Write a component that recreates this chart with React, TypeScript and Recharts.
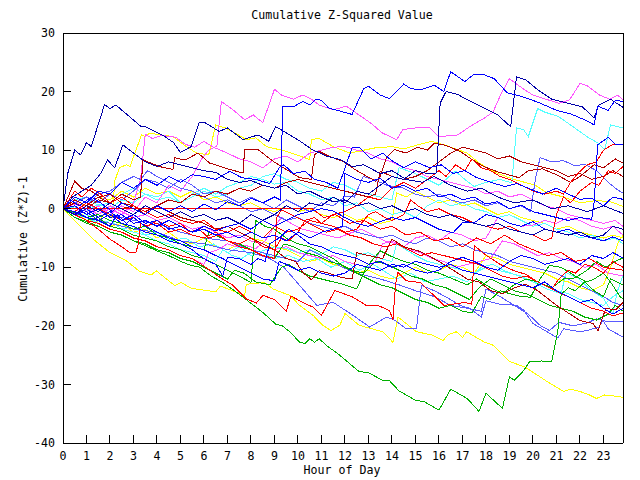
import { LineChart, Line, XAxis, YAxis } from 'recharts';

const HOURS = [0, 1, 2, 3, 4, 5, 6, 7, 8, 9, 10, 11, 12, 13, 14, 15, 16, 17, 18, 19, 20, 21, 22, 23];
const Y_TICKS = [-40, -30, -20, -10, 0, 10, 20, 30];
const X_MAX = 23.83;

const BLUE = '#0000ff';
const NAVY = '#0000a8';
const RED = '#ff0000';
const DARKRED = '#b00000';
const GREEN = '#00b000';
const MAGENTA = '#ff55ff';
const CYAN = '#55ffff';
const YELLOW = '#ffff00';
const SLATE = '#5a5aff';

type Pt = [number, number];

// each walk: [hour, cumulative value]
const navyA: Pt[] = [[0, 0], [0.2, 6], [0.5, 10], [0.75, 9.2], [1.0, 11.3], [1.2, 10.6], [1.77, 17.8], [2.0, 17.1], [2.25, 17.7], [3.3, 14.1], [3.5, 14], [3.9, 13.2], [4.3, 12.4], [4.7, 11.3], [5.0, 9.6], [5.45, 10.6], [5.8, 14.8], [6.0, 14.8], [6.65, 13.2], [7.0, 13.8], [7.65, 11.8], [8.3, 12.6], [8.75, 11.5], [9.05, 14], [9.4, 13.2], [10.1, 11.5], [10.6, 10.1], [11.2, 9], [11.8, 8.4], [12.3, 7.2], [12.8, 7.5], [13.5, 6], [14, 6.5], [14.6, 5], [15.3, 4.5], [15.8, 5.5], [16.5, 4], [17.2, 3], [17.8, 3.5], [18.5, 2], [19.2, 1], [20, 1.5], [20.8, 0], [21.5, 0.5], [22.3, -0.5], [23, 0.5], [23.83, -0.8]];
const blueB: Pt[] = [[0, 0], [0.3, 1.5], [0.7, 0.5], [1.2, 2], [1.6, 1], [2.1, -0.5], [2.5, 1], [3, 0], [3.5, -1], [4, 0.5], [4.5, -0.5], [5, 0.5], [5.5, -0.5], [6, 0.8], [6.5, -0.2], [7, 1.2], [7.5, 0.5], [8, 1.8], [8.5, 1], [9, 2], [9.25, 1.5], [9.35, 17.4], [9.8, 17.4], [10.2, 18.3], [10.5, 17.7], [10.75, 18.7], [11, 18.5], [11.3, 17.2], [12.3, 16.1], [12.8, 20.5], [13, 20.9], [13.5, 19.4], [13.9, 18.8], [14.5, 21.3], [14.8, 20.5], [15.2, 20.3], [15.8, 21.1], [16.2, 20], [16.5, 23.4], [17.1, 21.7], [17.5, 23], [17.9, 22.9], [18.35, 22.2], [18.9, 19.8], [19.5, 19.2], [20.2, 18.2], [21, 16.8], [21.6, 16.2], [22.3, 15], [22.6, 14.3], [22.75, 17.5], [23.2, 16.8], [23.5, 18.5], [23.83, 18.3]];
const navyC: Pt[] = [[0, 0], [0.5, -1], [1, 0.5], [1.5, -0.5], [2, 1], [2.5, 0], [3, -1], [3.5, 0.5], [4, -0.5], [4.5, -1.5], [5, -0.5], [5.5, -1.5], [6, -1], [6.5, -2], [7, -1.5], [7.5, -2.5], [8, -1], [8.5, -2], [9, -1], [9.5, 0.5], [10, -0.5], [10.5, 1], [11, 0.5], [11.5, 2], [12, 1], [12.5, 3], [13, 2.5], [13.5, 4], [14, 5.5], [14.5, 5], [15, 6.5], [15.5, 6], [15.9, 6.1], [16.05, 18], [16.3, 20], [16.8, 19.5], [17.3, 18.4], [17.9, 17.2], [18.5, 16], [19.05, 14], [19.3, 22.5], [19.7, 22], [20.2, 20.3], [20.8, 18.7], [21.5, 18], [22.1, 17.4], [22.6, 15.5], [22.8, 17.7], [23.3, 18.7], [23.83, 17.3]];
const magentaTop: Pt[] = [[0, 0], [0.5, 1.5], [1, -0.5], [1.5, 0.5], [2, -1], [2.5, 0.5], [3, -0.5], [3.5, 2], [4, 1], [4.5, 4], [5, 3], [5.5, 5.5], [5.9, 8.5], [6.2, 10], [6.55, 10.7], [6.74, 18.3], [7.2, 17], [7.73, 15.2], [8.1, 16], [8.5, 14.7], [9, 20.4], [9.3, 19.4], [9.8, 18.7], [10.2, 19.4], [10.57, 18.7], [10.9, 17.7], [11.5, 16.9], [12.06, 17.5], [12.6, 16], [13.1, 14.6], [13.6, 12.9], [14.2, 11.8], [14.46, 13.5], [15, 13.8], [15.6, 13.8], [16, 12.3], [16.8, 12.6], [17.3, 14], [17.9, 15.4], [18.3, 16.5], [18.65, 19.7], [19, 22.2], [19.57, 20.5], [20, 19.4], [21.1, 18], [21.56, 18.6], [22, 21.4], [22.3, 21], [22.84, 19.4], [23.26, 18.7], [23.6, 19.4], [23.83, 18.6]];
const cyanTop: Pt[] = [[0, 0], [0.5, 1.5], [1, 2], [1.5, 0.5], [2, 1], [2.5, 2.5], [3, 3.5], [3.5, 2.5], [4, 2], [4.5, 3], [5, 1], [5.5, 2], [6, 3], [6.5, 2], [7, 2.5], [7.5, 3.5], [8, 4], [8.5, 5.5], [9, 6], [9.5, 5], [10, 4.5], [10.5, 3.5], [11, 3], [11.5, 4.5], [12, 4], [12.5, 3], [13, 2.5], [13.5, 2], [14, 1.5], [14.3, 7], [15, 6], [15.5, 5], [16, 4], [16.7, 6.4], [17.1, 5], [17.5, 3.8], [18, 4.5], [18.6, 5], [19.1, 4.4], [19.3, 13.8], [19.6, 13.5], [19.8, 12.3], [20.2, 17.1], [20.5, 16.5], [21.1, 15.7], [21.7, 14], [22.3, 12.3], [22.77, 11.2], [23.05, 10.1], [23.3, 14.3], [23.83, 13.8]];
const yellowTop: Pt[] = [[0, 0], [0.8, -1], [1.4, -2.5], [1.8, -0.8], [2.1, -1.5], [2.2, 4.7], [2.4, 7], [2.7, 7.5], [2.85, 7.2], [3.34, 12.6], [3.5, 12.3], [3.69, 12.9], [4.68, 12.3], [5.25, 10.6], [5.68, 9.5], [6.2, 9.2], [6.5, 14.3], [6.9, 13.8], [7.2, 13.2], [7.8, 11.8], [8.2, 12.1], [8.66, 10.6], [9.5, 9.8], [10.5, 8.4], [10.57, 11.8], [10.9, 12], [11.5, 10.6], [12.2, 9.5], [12.8, 10], [13.3, 10.4], [14, 10.6], [14.5, 10.2], [15, 10.8], [15.7, 11.5], [16.3, 10.8], [17.2, 9.5], [17.7, 7.8], [18.5, 6], [19.2, 5], [20.1, 4], [20.6, 2.7], [21.3, 2], [22, 1], [22.7, 1.4], [23.3, 1.2], [23.83, 0.4]];
const darkredA: Pt[] = [[0, 0], [0.5, 1.5], [1, 0.5], [1.5, 2], [2, 1], [2.5, 2.5], [3, 1.5], [3.3, 2], [3.4, 8.4], [3.6, 8], [4.1, 7.2], [4.68, 6.7], [4.75, 8.7], [5.2, 8.3], [5.74, 9.5], [6.24, 7.8], [7, 6.8], [7.66, 6.1], [7.73, 10.1], [8.3, 10.1], [8.94, 8.1], [9.5, 6.7], [10.07, 5.3], [10.57, 5], [10.7, 9.2], [10.9, 9.8], [11.35, 8.9], [11.9, 8.1], [12.5, 6.5], [13.3, 4.7], [13.5, 5.5], [13.76, 8.7], [14.1, 10.1], [14.6, 9.5], [15.1, 10.5], [15.5, 10], [15.8, 11.2], [16.3, 10.8], [16.9, 9.8], [17.4, 8.4], [17.9, 7.2], [18.5, 6.3], [19.4, 5.3], [19.8, 6.5], [20.4, 6.8], [21, 5.8], [21.6, 4.5], [22, 5.5], [22.6, 7.5], [23, 7], [23.5, 8.5], [23.83, 7.8]];
const darkredB: Pt[] = [[0, 0], [0.5, 4.7], [0.8, 3.5], [1.2, 3], [1.6, 2], [2, 2.5], [2.5, 1], [3, 0.5], [3.5, -1], [4, 0.5], [4.5, -0.5], [5, -1.5], [5.5, -2], [6, -2.5], [6.5, -3.5], [7, -3], [7.5, -4], [8, -5], [8.5, -6], [9, -7], [9.5, -8.5], [9.9, -9], [10.2, -10.9], [10.57, -12.1], [10.9, -10.6], [11.3, -11], [11.8, -11.7], [12.3, -12], [12.5, -7.5], [13, -8], [13.6, -8.5], [14, -5.2], [14.5, -6.5], [15.2, -7.3], [16, -9], [16.6, -10.5], [17.2, -12], [17.7, -12.5], [18.2, -14], [18.7, -14.5], [19.2, -13.5], [19.7, -12.9], [20.2, -14], [21, -16.5], [22, -19.1], [22.55, -19.6], [22.77, -20.8], [23.1, -17], [23.5, -17.3], [23.83, -16]];
const darkredC: Pt[] = [[0, 0], [0.5, 1], [1, 0], [1.5, 1.5], [2, 1], [2.5, 0], [3, 0.5], [3.5, -0.5], [4, 0.5], [4.5, 1.5], [5, 1], [5.5, 2.5], [6, 2], [6.5, 3], [7, 2.5], [7.5, 3.5], [8, 3], [8.5, 4], [9, 3.5], [9.5, 4.5], [10, 5], [10.5, 4.5], [11, 4], [11.5, 3.5], [12, 3], [12.5, 2.5], [13, 2], [13.3, 2.5], [13.5, 6.4], [14, 5.5], [14.5, 5], [15, 5.5], [15.5, 6.5], [16, 8], [16.5, 9.5], [17, 10.5], [17.5, 10], [18, 9.5], [18.5, 8.5], [19, 9], [19.5, 8], [20, 7.5], [20.5, 7], [21, 6.5], [21.5, 5.5], [22, 6], [22.5, 5], [23, 5.5], [23.4, 6.5], [23.83, 5.5]];
const greenBottom: Pt[] = [[0, 0], [0.5, -1.5], [1, -2.2], [1.5, -3], [2, -4], [2.5, -4.5], [3, -5.5], [3.5, -6.3], [4, -7.2], [4.5, -8], [5, -9], [5.4, -9.6], [5.82, -10], [6.3, -11.5], [6.8, -12.6], [7.4, -14.3], [7.95, -16], [8.5, -17.7], [9.08, -19.8], [9.3, -19.9], [9.65, -21], [10.07, -22.8], [10.3, -23], [10.5, -22.2], [10.7, -22.8], [10.9, -22.2], [11.2, -23.3], [11.77, -25], [12.6, -27.8], [13, -28], [13.6, -29.3], [13.9, -29.4], [14.3, -31.1], [15, -32.7], [15.4, -33], [16, -34.4], [16.5, -30.8], [17.2, -32.4], [17.7, -34.6], [18, -31.5], [18.7, -34.1], [19, -28.7], [19.2, -29.3], [19.57, -27.8], [19.86, -26.1], [20.36, -26], [20.8, -26.1], [21.06, -20.8], [21.2, -14.6], [21.5, -13.5], [21.8, -14], [22.2, -12.5], [22.6, -14], [23, -15], [23.3, -12], [23.83, -13]];
const yellowBottom: Pt[] = [[0, 0], [0.6, -2.5], [1.28, -5.2], [2, -7.5], [2.7, -8.9], [3.26, -10.7], [3.76, -11.3], [3.97, -10.6], [4.75, -13.1], [5.04, -12.6], [5.46, -13.6], [6.5, -14.2], [6.7, -13.2], [7.73, -14.8], [7.8, -12.9], [8.58, -12.6], [8.94, -13.7], [9.65, -14.8], [10.07, -16.5], [10.64, -18.2], [11.06, -19.9], [11.4, -20.8], [11.78, -19.9], [12, -17.9], [12.6, -19.9], [13.6, -21], [14.04, -22.8], [14.26, -18.5], [15.04, -21], [15.74, -21.6], [16.17, -22.5], [16.4, -21.5], [16.74, -21], [17, -22], [17.17, -21], [17.94, -22.8], [18.3, -23.3], [19, -26.1], [19.65, -27], [20.6, -29.5], [21.3, -31.2], [21.6, -30.8], [22, -31.2], [22.4, -31.8], [22.7, -32.4], [23.05, -31.8], [23.7, -32.1], [23.83, -32.3]];
const redLow: Pt[] = [[0, 0], [0.5, -1], [1, -2], [1.5, -2.5], [2, -3.5], [2.5, -4], [3, -5], [3.5, -5.5], [4, -6.5], [4.5, -7], [5, -8], [5.5, -8.5], [5.96, -9.7], [6.67, -11.7], [7.2, -13], [7.8, -15.4], [8.23, -16.1], [8.51, -14.8], [9.0, -15.5], [9.5, -17.5], [9.7, -14.9], [10.2, -16], [10.64, -16.8], [11.0, -18.2], [11.56, -14], [11.8, -14.3], [12.34, -15.1], [12.9, -16.5], [13.4, -16.5], [13.9, -17.4], [14.04, -19], [14.15, -13], [14.25, -10.9], [14.6, -12.3], [15.2, -12.6], [15.7, -14.5], [16.2, -16.5], [16.6, -16.3], [17.1, -16], [17.4, -16.3], [17.5, -6.3], [17.95, -7.8], [18.6, -9.5], [19.2, -10.6], [19.7, -11.2], [20.2, -12.5], [20.8, -13.7], [21.1, -12], [21.5, -10.5], [21.8, -11], [22.2, -9.5], [22.6, -10], [23, -11], [23.4, -9], [23.83, -10]];
const redFlat: Pt[] = [[0, 0], [10.6, 0], [11.1, -1.5], [11.6, -1], [12.2, -2.5], [12.8, -2], [13.5, -3.5], [14, -3], [14.6, -4.5], [15.2, -4], [15.8, -5.5], [16.4, -5], [17, -6.5], [17.6, -5], [18.2, -6], [18.8, -4.5], [19.4, -6], [20, -7], [20.6, -8], [21.2, -7.5], [21.8, -9], [22.4, -8.5], [23, -10], [23.83, -10.5]];
const slateA: Pt[] = [[0, 0], [1, -1.5], [2, -2.5], [3, -3.5], [4, -4], [5, -5.5], [6, -6], [7, -7], [8, -7.5], [8.8, -8.5], [9.4, -10], [10.07, -13.1], [10.8, -16.5], [11.5, -16], [12.34, -18.2], [13.05, -20.2], [13.76, -18.5], [14.1, -19], [14.6, -20.5], [15.04, -20.5], [15.25, -13.1], [15.8, -14], [16.4, -15.3], [16.9, -16.5], [17.3, -17], [17.8, -18.5], [18, -15.7], [18.6, -16.3], [19.3, -16.5], [19.6, -17.3], [20, -19.6], [20.85, -21.6], [21.06, -22.1], [21.3, -20.5], [22, -21], [22.3, -20.8], [22.8, -20.2], [22.98, -19.1], [23.2, -20.5], [23.55, -21.3], [23.83, -21.9]];
const slateB: Pt[] = [[0, 0], [0.6, -1], [1.2, 0.5], [2, -1], [3, -2], [4, -2.5], [5, -4], [6, -5], [7, -5.5], [8, -7], [9, -8], [10, -9], [10.5, -7], [11, -8], [11.9, -10], [12.5, -11], [13.5, -12], [14.3, -13], [15, -14], [15.8, -15], [16.5, -16.5], [17.2, -17], [17.8, -17.5], [18, -13.7], [18.6, -15], [19.2, -16.5], [19.8, -18], [20.3, -19.9], [20.7, -20.8], [21.1, -19.4], [21.7, -20], [22.3, -19.5], [22.7, -18.8], [23.2, -19.3], [23.83, -19.2]];
const slateC: Pt[] = [[0, 0], [0.5, 1], [1, 2], [1.5, 1], [2, 2.5], [2.5, 1.5], [3, 3], [3.5, 5], [4, 4.5], [4.5, 3.5], [5, 5], [5.5, 4], [6, 2.5], [6.5, 3], [7, 2], [7.5, 1], [8, 2], [8.5, 1], [9, 0], [9.5, 1.5], [10, 0.5], [10.5, -0.5], [11, 1], [11.5, 0.5], [12, 2.1], [12.4, 2], [12.77, 5.5], [13.2, 5], [13.8, 4], [14.5, 3.5], [15, 2.5], [15.5, 2], [16, 2.5], [16.5, 1.5], [17, 1], [17.5, 1.5], [18, 0.5], [18.5, 1], [19, 0], [19.5, 0.5], [19.9, -0.5], [20.1, 5], [20.3, 8.7], [20.8, 8], [21.3, 8.2], [21.8, 7.3], [22.2, 7.6], [22.7, 6.5], [23.2, 4.5], [23.6, 3.2], [23.83, 2.7]];
const slateD: Pt[] = [[0, 0], [0.5, 1.5], [1, 0.5], [1.5, 2.5], [2, 3], [2.5, 4.5], [3, 5.5], [3.3, 5], [3.6, 6.5], [4, 5.5], [4.5, 4.5], [5, 3.5], [5.5, 3], [6, 2], [6.5, 1], [7, 1.5], [7.5, 0.5], [8, -0.5], [8.5, 0], [9, -1], [9.5, -2], [10, -1.5], [10.5, -2.5], [11, -3], [11.5, -3.5], [12, -3], [12.5, -4], [13, -4.5], [13.5, -5], [14, -4.5], [14.5, -5.5], [15, -6], [15.5, -5], [16, -5.5], [16.5, -6.5], [17, -6], [17.5, -7], [18, -7.5], [18.5, -8], [19, -9], [19.5, -9.5], [20, -10], [20.5, -10.5], [21, -11], [21.5, -12], [22, -13], [22.5, -14], [23, -15], [23.4, -16], [23.83, -16.5]];
const cyanLow: Pt[] = [[0, 0], [0.5, -1.5], [1, -1], [1.5, -2.5], [2, -2], [2.5, -3.5], [3, -3], [3.5, -4.5], [4, -4], [4.6, -5.5], [5.2, -5], [5.8, -6.5], [6.4, -6], [7, -7.5], [7.5, -6.5], [8, -8], [8.5, -7.5], [9, -8.5], [9.6, -8], [10.2, -9], [10.8, -8.5], [11.4, -10], [12, -9], [12.6, -10.5], [13.2, -9.5], [13.8, -11], [14.2, -12], [14.8, -11], [15.4, -12.5], [16, -12], [16.6, -11.5], [17.2, -12.5], [17.8, -10], [18.3, -9.5], [18.8, -10.6], [19.4, -11.5], [20, -12.5], [20.6, -13.7], [21.2, -14.5], [21.4, -10.9], [21.9, -11.8], [22.5, -14], [23, -15.3], [23.4, -17.9], [23.6, -14], [23.83, -11.4]];
const cyanMid: Pt[] = [[0, 0], [0.5, 0.3], [1, -0.5], [1.5, 0.8], [2, 0], [2.5, 1.5], [3, 1], [3.5, 2.5], [4, 1.5], [4.5, 2], [5, 1], [5.5, 2.5], [6, 3.5], [6.5, 2.5], [7, 3.8], [7.5, 4.5], [8, 5.5], [8.5, 5], [9, 4.2], [9.5, 4.5], [10, 3], [10.5, 2.5], [11, 1.5], [11.5, 2], [12, 0.5], [12.5, 1], [13, -0.5], [13.5, 0], [14, -1], [14.5, -0.5], [15, -1.5], [15.5, 0.5], [16, 1.5], [16.5, 0.5], [17, 1], [17.5, 0], [18, -0.5], [18.5, -1.5], [19, -1], [19.5, -2], [20, -3], [20.5, -2.5], [21, -3.5], [21.5, -4], [22, -5], [22.5, -4.5], [23, -5.5], [23.5, -5], [23.83, -6]];
const cyanLeft: Pt[] = [[0, 0], [0.5, -1], [1, -1.5], [1.5, -2.5], [2, -2], [2.5, -3.5], [3, -4], [3.5, -4.5], [4, -5.5], [4.5, -6], [5, -7], [5.5, -7.5], [6, -8], [6.5, -9], [6.8, -7], [7.2, -8], [7.6, -8.5], [8, -7.5], [8.5, -7.2], [9, -6.5], [9.5, -6.8], [10, -7.5], [10.5, -7], [11, -7.8], [11.5, -6.5], [12, -7], [12.5, -8], [13, -7.5], [13.5, -8.5], [14, -9], [14.2, -6], [14.6, -7], [15, -8], [15.5, -9], [16, -9.5], [16.5, -10], [17, -10.5], [17.5, -11], [18, -10], [18.5, -10.5], [19, -11], [19.5, -11.5], [20, -12.5], [20.5, -13], [21, -14], [21.5, -14.5], [22, -15.5], [22.5, -16], [23, -16.5], [23.4, -15], [23.83, -14]];
const greenMid1: Pt[] = [[0, 0], [0.5, -1], [1, -2], [1.5, -1.5], [2, -3], [2.5, -3.5], [3, -4.5], [3.5, -5], [4, -5.5], [4.5, -6.5], [5, -7], [5.5, -8], [6, -8.5], [6.5, -9.5], [7, -10.5], [7.5, -11.5], [8, -12.6], [8.2, -2], [8.6, -3], [9, -3.5], [9.5, -5], [10, -6], [10.5, -6.5], [11, -7.5], [11.5, -8.5], [12, -10], [12.5, -11], [13, -12], [13.5, -13], [14, -13.5], [14.5, -14.5], [15, -15.5], [15.5, -16], [16, -17], [16.5, -16.5], [17, -17.5], [17.4, -17.8], [17.8, -15], [18.2, -15.5], [18.6, -14], [19, -14.5], [19.5, -15], [19.9, -15.1], [20.3, -12], [20.7, -9.7], [21.2, -10], [21.8, -11.5], [22.3, -12.5], [22.6, -12], [23, -11], [23.3, -12.5], [23.7, -15], [23.83, -15.4]];
const greenMid2: Pt[] = [[0, 0], [0.5, -1.5], [1, -2.5], [1.5, -3], [2, -4], [2.5, -4.5], [3, -5.5], [3.5, -6], [4, -7], [4.5, -7.5], [5, -8.5], [5.5, -9], [6, -10], [6.5, -11], [7, -12], [7.3, -10.5], [7.7, -11], [8.2, -12.5], [8.8, -13], [9.3, -10], [9.6, -9.5], [10, -10.5], [10.5, -11.5], [11, -12], [11.5, -12.5], [12, -13], [12.5, -13.7], [12.9, -10], [13.5, -7.2], [14, -8.2], [14.5, -9], [15, -9.5], [15.5, -10.5], [16, -11], [16.6, -12], [17.2, -13], [17.6, -12], [18.2, -13.5], [18.7, -14.5], [19.2, -13], [19.7, -12], [20.2, -12.5], [20.8, -13.5], [21.3, -12], [21.8, -11.8], [22.3, -10.5], [22.7, -9], [23.1, -10], [23.5, -9], [23.83, -8.4]];
const greenMid3: Pt[] = [[0, 0], [0.4, -0.5], [1, -1.5], [1.5, -1], [2, -2], [2.5, -2.5], [3, -3.5], [3.5, -3], [4, -4.5], [4.5, -5], [5, -6], [5.5, -6.5], [6, -7], [6.2, -4], [6.5, -4.5], [7, -5.5], [7.5, -6], [8, -7], [8.5, -8], [9, -8.5], [9.4, -6], [9.8, -6.5], [10.3, -7.5], [10.8, -8], [11.3, -9], [11.8, -9.5], [12.3, -10.5], [12.8, -11], [13.3, -9], [13.8, -9.5], [14.3, -10.5], [14.8, -11.5], [15.3, -12], [15.8, -13], [16.3, -13.5], [16.8, -14.5], [17.3, -15.5], [17.7, -13.5], [18.2, -12], [18.7, -13], [19.2, -14], [19.7, -14.5], [20.2, -15.5], [20.7, -16.5], [21.2, -17], [21.7, -17.5], [22.2, -18.5], [22.7, -19], [23.2, -18], [23.5, -16.5], [23.83, -17.5]];
const blueC: Pt[] = [[0, 0], [0.5, 2], [1, 1], [1.5, 3], [2, 2.5], [2.5, 4.5], [3, 3.5], [3.5, 5], [4, 4], [4.5, 5.5], [5, 4.5], [5.5, 5.8], [6, 5.5], [6.5, 5], [7.1, 6.4], [7.6, 5.3], [8.2, 5], [8.8, 4.3], [9.2, 7], [9.4, 7.5], [9.8, 6], [10.3, 6.4], [10.7, 5], [11.2, 4.5], [11.7, 3.5], [12.3, 10.4], [12.6, 10.5], [13.1, 8.5], [13.6, 9.5], [14, 8.2], [14.5, 7], [15, 8], [15.6, 7], [16.1, 7.5], [16.6, 6], [17.1, 6.5], [17.6, 5.3], [18.2, 4.5], [18.8, 3.8], [19.3, 4.3], [19.8, 3.5], [20.4, 2.5], [21, 3.5], [21.5, 2.5], [22, 1.6], [22.5, 1.8], [23, 0.5], [23.4, 2], [23.83, 1.6]];
const blueD: Pt[] = [[0, 0], [0.5, -1], [1, 0], [1.5, -1.5], [2, -0.5], [2.5, -2], [3, -1], [3.5, -2.5], [4, -2], [4.5, -3.5], [5, -3], [5.5, -4], [6, -3.5], [6.5, -4.5], [7, -4], [7.5, -5], [8, -4], [8.5, -5], [9, -4.5], [9.5, -5.5], [10, -4], [10.5, -5], [11, -4], [11.5, -3.5], [11.9, -3], [12, 6], [12.5, 5], [13, 4.5], [13.5, 5.2], [14, 3.5], [14.5, 4], [15, 3], [15.5, 3.5], [16, 2], [16.5, 2.5], [17, 1.5], [17.5, 2], [18, 0.8], [18.5, 1.2], [19, 0], [19.5, 0.6], [20, -0.5], [20.5, -1], [21, -1.5], [21.5, -2], [22, -1.5], [22.5, -1.8], [22.6, 1], [22.75, 10.9], [23.2, 12.2], [23.5, 11], [23.83, 10.9]];
const blueE: Pt[] = [[0, 0], [0.5, 0.5], [1, -1], [1.5, 0], [2, -1.5], [2.5, -1], [3, -2.5], [3.5, -2], [4, -3], [4.5, -2], [5, -3], [5.5, -4], [6, -3], [6.5, -3.8], [7, -3], [7.5, -2.5], [8, -3.5], [8.5, -2], [9, -3], [9.5, -2], [10, -1], [10.5, -0.5], [11, 0], [11.5, -0.4], [12, -1.5], [12.5, -2.5], [13, -3], [13.5, -2.2], [14, -1.5], [14.5, -2], [15, -1.5], [15.5, -2.5], [16, -3.5], [16.6, -4.1], [17, -2.4], [17.5, -2.4], [18, -1], [18.5, -1.5], [19, -2.5], [19.5, -3], [20, -2.2], [20.5, -3.5], [21, -4], [21.5, -3.5], [22, -4.5], [22.5, -5], [23, -5.5], [23.4, -4.8], [23.83, -5.5]];
const blueF: Pt[] = [[0, 0], [0.5, -0.5], [1, -1.5], [1.5, -2], [2, -1], [2.5, -2.5], [3, -3], [3.5, -4], [4, -4.5], [4.5, -5.5], [5, -6], [5.5, -7], [5.8, -8], [6.2, -9], [6.5, -9.5], [6.8, -11.5], [7, -8.3], [7.5, -8.5], [8, -9.5], [8.3, -8.5], [8.6, -9], [8.8, -6], [9.2, -5], [9.6, -3.5], [10, -4.5], [10.5, -6], [11, -6.5], [11.5, -7.5], [12, -8], [12.5, -8.5], [13, -9.5], [13.5, -9], [14, -10], [14.5, -9.5], [15, -10.5], [15.5, -11], [16, -10.5], [16.5, -9], [17, -8.3], [17.5, -9], [18, -10], [18.5, -10.5], [19, -9], [19.5, -8], [20, -8.5], [20.5, -9.5], [21, -9], [21.5, -8.5], [22, -9.5], [22.5, -8], [23, -8.5], [23.4, -7.5], [23.83, -8.4]];
const navyD: Pt[] = [[0, 0], [0.4, 2], [0.8, 3], [1.2, 4], [1.6, 6], [1.9, 8.3], [2.2, 7], [2.55, 10.9], [3.0, 9.5], [3.5, 8], [4, 7.2], [4.5, 8], [5, 7.5], [5.5, 7], [6, 6.5], [6.5, 6.2], [7, 5], [7.5, 4.5], [8, 4.8], [8.5, 4], [9, 3.5], [9.5, 4], [10, 2.5], [10.5, 3], [11, 2], [11.5, 1.2], [12, 1.5], [12.5, 0.5], [13, 1], [13.5, 0], [14, 0.5], [14.5, -0.5], [15, 0], [15.5, -1], [16, -1.5], [16.5, -1], [17, -2], [17.5, -2.5], [18, -3], [18.5, -2.5], [19, -3.5], [19.5, -4], [20, -4.5], [20.5, -3.5], [21, -4], [21.5, -4.5], [22, -4], [22.5, -5], [23, -4.5], [23.4, -3], [23.83, -3.5]];
const blueH: Pt[] = [[0, 0], [0.5, -1], [1, -0.5], [1.5, -2], [2, -3], [2.3, -1], [2.7, -2.5], [3, -1.5], [3.5, -3], [4, -4], [4.5, -5], [5, -5.5], [5.5, -6.5], [6, -7], [6.5, -8], [6.8, -8.5], [7, -9], [7.5, -10], [8, -11], [8.5, -12], [9, -12.3], [9.2, -9], [9.5, -9.5], [10, -10.5], [10.5, -10], [11, -11], [11.5, -11.5], [12, -11], [12.5, -9.5], [13, -10], [13.5, -10.5], [14, -9.5], [14.5, -10], [15, -9], [15.5, -9.5], [16, -10], [16.5, -9.5], [17, -10.5], [17.5, -11], [18, -11.5], [18.5, -12], [19, -12.5], [19.5, -13], [20, -13.5], [20.5, -12.5], [21, -14], [21.5, -15], [22, -16], [22.5, -15.5], [23, -17], [23.4, -18], [23.83, -17]];
const magentaMid: Pt[] = [[0, 0], [0.5, -0.5], [1, 0.5], [1.5, -1], [2, 0], [2.5, -1], [3, 1], [3.3, 5], [3.5, 12.7], [3.8, 12], [4.2, 12.5], [4.8, 12.2], [5.2, 11], [5.6, 10.5], [6, 11.5], [6.4, 10.5], [7, 9.5], [7.5, 8.5], [8, 8], [8.5, 7], [9, 8.5], [9.5, 9], [10, 8], [10.5, 9.5], [11, 10], [11.5, 10.5], [12, 10.6], [12.5, 10], [13, 9.5], [13.5, 8.5], [14, 8], [14.5, 7], [15, 6.5], [15.5, 5.5], [16, 5], [16.5, 4.5], [17, 4], [17.5, 3.5], [18, 2.5], [18.5, 3], [19, 2], [19.5, 2.5], [20, 1.5], [20.5, 0.5], [21, 0], [21.5, -1], [22, -1.5], [22.5, -2], [23, -2.5], [23.5, -2], [23.83, -3]];
const magentaLow: Pt[] = [[0, 0], [0.5, -1], [1, -2], [1.5, -2.5], [2, -3.5], [2.5, -4], [3, -5], [3.5, -5.5], [4, -6.5], [4.5, -7], [5, -8], [5.5, -8.5], [6, -9.5], [6.2, -7.5], [6.6, -7], [7, -6], [7.4, -6.5], [7.8, -6.3], [8.2, -6.8], [8.6, -5.5], [9, -3], [9.3, -1.5], [9.7, -2.5], [10.2, -3.5], [10.7, -4], [11.2, -4.5], [11.7, -5], [12.2, -4.2], [12.7, -3.5], [13.2, -4.5], [13.7, -5.5], [14.2, -6], [14.7, -7], [15.2, -7.5], [15.7, -8.5], [16.2, -9], [16.7, -10], [17.2, -9.5], [17.7, -9], [18.2, -8.5], [18.7, -5.5], [19.2, -6], [19.7, -7], [20.2, -8], [20.7, -7.5], [21.2, -8.5], [21.7, -9], [22.2, -10], [22.7, -9.5], [23.2, -11], [23.83, -11.5]];
const magentaR: Pt[] = [[0, 0], [0.5, 0.8], [1, 0], [1.5, -1], [2, 0.5], [2.5, -0.5], [3, -1.5], [3.5, -1], [4, -2], [4.5, -1.5], [5, -2.5], [5.5, -3.5], [6, -3], [6.5, -4], [7, -5], [7.5, -4.5], [8, -5.5], [8.5, -6], [9, -7], [9.5, -6.5], [10, -7.5], [10.5, -8], [11, -8.5], [11.5, -8], [12, -9], [12.5, -9.5], [13, -10], [13.3, -9], [13.6, -6], [14, -5.5], [14.5, -6.5], [15, -5], [15.5, -4.5], [16, -5.5], [16.5, -4], [17, -4.5], [17.5, -5.5], [18, -5], [18.5, -1.5], [19, -2.5], [19.5, -3], [20, -2.8], [20.5, -2], [21, -2.5], [21.5, -1.5], [22, -2], [22.5, -3], [23, -3.5], [23.4, -3], [23.83, -4.5]];
const redMid1: Pt[] = [[0, 0], [0.5, 3], [0.8, 2], [1.2, 3.5], [1.6, 2.5], [2, 1], [2.5, 2], [3, 0.5], [3.5, -0.5], [4, -1.5], [4.5, -1], [5, -2], [5.5, -2.5], [6, -2], [6.5, -3.5], [7, -4], [7.5, -3], [8, -4], [8.5, -5], [9, -3], [9.5, -4], [10, -3.5], [10.5, -2], [11, -2.5], [11.5, -1], [12, -0.5], [12.5, 0.5], [13, 2], [13.5, 1.5], [14, 3.5], [14.5, 4.5], [15, 3.5], [15.5, 5], [16, 6.5], [16.3, 5.5], [16.7, 7.5], [17.1, 6.5], [17.4, 8.5], [17.8, 7], [18.2, 6.5], [18.6, 5.5], [19, 5], [19.5, 4], [20, 3], [20.5, 2.5], [21, 3], [21.3, 2.5], [21.6, 4.5], [21.9, 6], [22.3, 7.5], [22.7, 8], [23, 10], [23.4, 11], [23.83, 10.9]];
const redMid2: Pt[] = [[0, 0], [0.5, -0.5], [1, 1], [1.5, 0], [2, -1], [2.5, -2], [3, -1.5], [3.5, -3], [4, -2.5], [4.5, -4], [5, -3.5], [5.5, -4.5], [6, -5], [6.5, -4], [7, -5.5], [7.5, -6], [8, -5], [8.5, -6.5], [9, -7], [9.3, -5], [9.6, -5.5], [10, -4], [10.3, -2], [10.7, -1.5], [11, -2.5], [11.5, -3], [12, -4], [12.5, -3.5], [13, -1], [13.3, -0.5], [13.7, -1.5], [14, -2], [14.5, -1], [14.8, 1.5], [15.1, 0.5], [15.5, -0.5], [16, 0], [16.5, -1], [17, -1.5], [17.5, -2.5], [18, -3], [18.5, -3.5], [19, -3], [19.5, -4], [20, -4.5], [20.5, -5.5], [20.8, -5], [21, -1], [21.3, 2], [21.6, 1], [22, 3], [22.5, 4.5], [22.8, 4], [23.2, 6.5], [23.5, 6], [23.83, 7.2]];
const redEarly: Pt[] = [[0, 0], [0.5, -1], [1, -2], [1.5, -3.5], [2, -5.2], [2.5, -6.5], [2.84, -7.5], [3.1, -7.5], [3.2, -6.1], [3.3, -2.5], [3.6, -3], [4, -2], [4.5, -3], [5, -2.5], [5.4, -4], [5.8, -3.5], [6.2, -5], [6.6, -4.5], [7, -5.5], [7.5, -6.5], [8, -7], [8.5, -8], [9, -8.5], [9.1, -1.5], [9.3, -0.2], [9.7, -1], [10.2, -2], [10.7, -3], [11.2, -4], [11.7, -3.5], [12.2, -4.5], [12.7, -5], [13.2, -6], [13.7, -6.5], [14.2, -6], [14.7, -7], [15.2, -8], [15.7, -7.5], [16.2, -8], [16.7, -8.5], [17.2, -9], [17.7, -9.5], [18.2, -10.5], [18.7, -11.5], [19.2, -12], [19.7, -11.5], [20.2, -12.5], [20.7, -13.5], [21.2, -14.5], [21.6, -15.2], [22, -16], [22.5, -17], [23, -17.5], [23.4, -18.3], [23.83, -17.8]];
const yellowMid: Pt[] = [[0, 0], [0.5, -0.5], [1, -2], [1.5, -1.5], [2, -3], [2.5, -2.5], [3, -4], [3.5, -3.5], [4, -5], [4.5, -4], [5, -5.5], [5.5, -6], [6, -5], [6.5, -6.5], [7, -7], [7.5, -6], [8, -5], [8.5, -5.5], [9, -6.5], [9.5, -7], [10, -8], [10.5, -9], [11, -8.5], [11.5, -9.5], [12, -10], [12.5, -11], [13, -10.5], [13.5, -11.5], [14, -12], [14.5, -11], [15, -10], [15.5, -11], [16, -10.5], [16.5, -9.5], [17, -10], [17.5, -11], [18, -8], [18.5, -8.5], [19, -9.5], [19.5, -10], [20, -10.5], [20.5, -11], [21, -12], [21.5, -12.5], [22, -13.5], [22.5, -14], [23, -13], [23.3, -10], [23.6, -6], [23.83, -4.5]];
const yellowMid2: Pt[] = [[0, 0], [0.5, 1], [1, 0.5], [1.5, 2], [2, 1.5], [2.5, 3], [3, 2], [3.5, 3.5], [4, 2.5], [4.5, 3], [5, 2], [5.5, 3], [6, 1.5], [6.5, 2], [7, 1], [7.5, 0.5], [8, 1], [8.5, 0], [9, -0.5], [9.5, 0.5], [10, -0.5], [10.5, 0], [11, -1], [11.5, -1.5], [12, -1], [12.5, -2], [13, -1.5], [13.5, -2.5], [14, -2], [14.2, 2.7], [14.6, 2], [15, 3], [15.5, 2], [16, 1], [16.5, 1.5], [17, 0.5], [17.5, 1], [18, 0], [18.5, -1], [19, -0.5], [19.5, -1.5], [20, -2], [20.5, -2.5], [21, -3.5], [21.5, -3], [22, -4], [22.5, -4.5], [23, -5], [23.4, -4.5], [23.83, -5]];

const SERIES: { name: string; color: string; points: Pt[] }[] = [
  { name: 'yellowBottom', color: YELLOW, points: yellowBottom },
  { name: 'yellowMid', color: YELLOW, points: yellowMid },
  { name: 'yellowMid2', color: YELLOW, points: yellowMid2 },
  { name: 'yellowTop', color: YELLOW, points: yellowTop },
  { name: 'cyanTop', color: CYAN, points: cyanTop },
  { name: 'cyanLow', color: CYAN, points: cyanLow },
  { name: 'cyanMid', color: CYAN, points: cyanMid },
  { name: 'cyanLeft', color: CYAN, points: cyanLeft },
  { name: 'magentaTop', color: MAGENTA, points: magentaTop },
  { name: 'magentaMid', color: MAGENTA, points: magentaMid },
  { name: 'magentaLow', color: MAGENTA, points: magentaLow },
  { name: 'magentaR', color: MAGENTA, points: magentaR },
  { name: 'slateA', color: SLATE, points: slateA },
  { name: 'slateB', color: SLATE, points: slateB },
  { name: 'slateC', color: SLATE, points: slateC },
  { name: 'slateD', color: SLATE, points: slateD },
  { name: 'greenBottom', color: GREEN, points: greenBottom },
  { name: 'greenMid1', color: GREEN, points: greenMid1 },
  { name: 'greenMid2', color: GREEN, points: greenMid2 },
  { name: 'greenMid3', color: GREEN, points: greenMid3 },
  { name: 'darkredA', color: DARKRED, points: darkredA },
  { name: 'darkredB', color: DARKRED, points: darkredB },
  { name: 'darkredC', color: DARKRED, points: darkredC },
  { name: 'redLow', color: RED, points: redLow },
  { name: 'redFlat', color: RED, points: redFlat },
  { name: 'redMid1', color: RED, points: redMid1 },
  { name: 'redMid2', color: RED, points: redMid2 },
  { name: 'redEarly', color: RED, points: redEarly },
  { name: 'blueC', color: BLUE, points: blueC },
  { name: 'blueD', color: BLUE, points: blueD },
  { name: 'blueE', color: BLUE, points: blueE },
  { name: 'blueF', color: BLUE, points: blueF },
  { name: 'blueH', color: BLUE, points: blueH },
  { name: 'navyD', color: NAVY, points: navyD },
  { name: 'navyC', color: NAVY, points: navyC },
  { name: 'navyA', color: NAVY, points: navyA },
  { name: 'blueB', color: BLUE, points: blueB },
];

// the mirrored top/right axes need a series bound to them to be drawn
const frameAnchor = [{ h: 0, v: 0 }, { h: X_MAX, v: 0 }];

const FONT = '"DejaVu Sans Mono", monospace';
const tickStyle = { fill: '#000', fontSize: 11.6, fontFamily: FONT };

export default function App() {
  return (
    <div style={{ position: 'relative', width: 640, height: 480, background: '#fff', fontFamily: FONT, fontSize: 11.6, color: '#000' }}>
      <style>{`body { margin: 0; } .recharts-surface { shape-rendering: crispEdges; }`}</style>
      <LineChart width={640} height={480} margin={{ top: 32, right: 16, bottom: 0, left: 0 }}>
        <XAxis
          dataKey="h"
          type="number"
          domain={[0, X_MAX]}
          ticks={HOURS}
          height={37}
          tickSize={-8}
          tickMargin={17}
          stroke="#000"
          tick={tickStyle}
        />
        <XAxis xAxisId="top" orientation="top" dataKey="h" type="number" domain={[0, X_MAX]} ticks={HOURS} height={1} tickSize={-8} tick={false} stroke="#000" />
        <YAxis
          type="number"
          domain={[-40, 30]}
          ticks={Y_TICKS}
          width={63}
          tickSize={-8}
          tickMargin={16}
          stroke="#000"
          tick={tickStyle}
        />
        <YAxis yAxisId="right" orientation="right" type="number" domain={[-40, 30]} ticks={Y_TICKS} width={1} tickSize={-8} tick={false} stroke="#000" />
        <Line
          xAxisId="top"
          yAxisId="right"
          data={frameAnchor}
          dataKey="v"
          stroke="none"
          dot={false}
          activeDot={false}
          legendType="none"
          isAnimationActive={false}
        />
        {SERIES.map((s) => (
          <Line
            key={s.name}
            name={s.name}
            data={s.points.map(([h, v]) => ({ h, v }))}
            dataKey="v"
            stroke={s.color}
            strokeWidth={1}
            dot={false}
            activeDot={false}
            isAnimationActive={false}
          />
        ))}
      </LineChart>
      <div style={{ position: 'absolute', left: 342, top: 8, transform: 'translateX(-50%)', whiteSpace: 'nowrap', lineHeight: '14px' }}>
        Cumulative Z-Squared Value
      </div>
      <div style={{ position: 'absolute', left: 342, top: 463, transform: 'translateX(-50%)', whiteSpace: 'nowrap', lineHeight: '14px' }}>
        Hour of Day
      </div>
      <div style={{ position: 'absolute', left: 23, top: 239, transform: 'translate(-50%, -50%) rotate(-90deg)', whiteSpace: 'nowrap', lineHeight: '14px' }}>
        Cumulative (Z*Z)-1
      </div>
    </div>
  );
}
